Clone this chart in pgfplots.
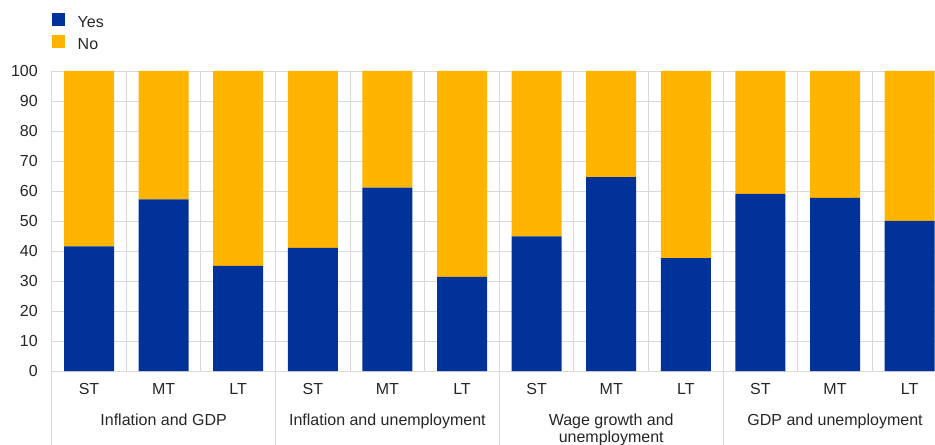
\documentclass[border=0pt]{standalone}
\usepackage{fontspec}
\setmainfont{Liberation Sans}
\usepackage{pgfplots}
\pgfplotsset{compat=1.18}
\definecolor{ecbblue}{HTML}{003299}
\definecolor{ecbyellow}{HTML}{FFB400}
\definecolor{gridgrey}{HTML}{D9D9D9}
\definecolor{textgrey}{HTML}{262626}
\begin{document}
\fontsize{16bp}{19bp}\selectfont
\begin{tikzpicture}
\useasboundingbox (0bp,0bp) rectangle (935bp,445bp);
\begin{axis}[
  at={(51.7bp,74bp)}, anchor=south west,
  width=883.3bp, height=300bp, scale only axis,
  ybar stacked, bar width=50bp,
  xmin=-0.5, xmax=11.34, ymin=0, ymax=100,
  clip=false,
  ytick={0,10,...,100},
  xtick={0,...,11},
  xticklabels={ST,MT,LT,ST,MT,LT,ST,MT,LT,ST,MT,LT},
  minor xtick={0.5,1.5,...,10.5},
  xminorgrids, ymajorgrids,
  grid style={gridgrey, line width=0.9bp},
  minor grid style={gridgrey, line width=0.9bp},
  major grid style={gridgrey, line width=0.9bp},
  axis line style={draw=none},
  major tick length=0pt, minor tick length=0pt,
  tick style={draw=none},
  /pgf/number format/assume math mode=true,
  ticklabel style={font=\fontsize{16bp}{19bp}\selectfont, text=textgrey},
  yticklabel style={xshift=-8.4bp},
  xticklabel style={yshift=-6.5bp},
  legend style={at={(axis description cs:0,1.193)}, anchor=north west,
    draw=none, fill=none, inner sep=0pt, outer sep=0pt,
    column sep=13bp, row sep=4bp,
    nodes={inner sep=0pt, text height=12bp, text depth=4bp,
      font=\fontsize{16bp}{19bp}\selectfont, text=textgrey}},
  legend cell align=left,
  legend image code/.code={\fill[#1] (0bp,-3bp) rectangle (13bp,10bp);},
]
\addplot[fill=ecbblue, draw=none] coordinates {
  (0,41.5) (1,57.2) (2,35.0) (3,41.0) (4,61.1) (5,31.4)
  (6,44.9) (7,64.6) (8,37.6) (9,59.0) (10,57.7) (11,50.0)};
\addplot[fill=ecbyellow, draw=none] coordinates {
  (0,58.5) (1,42.8) (2,65.0) (3,59.0) (4,38.9) (5,68.6)
  (6,55.1) (7,35.4) (8,62.4) (9,41.0) (10,42.3) (11,50.0)};
\legend{Yes,No}
\draw[gridgrey, line width=0.9bp] (axis cs:-0.5,100) -- (axis cs:-0.5,-24.67);
\draw[gridgrey, line width=0.9bp] (axis cs:2.5,0) -- (axis cs:2.5,-24.67);
\draw[gridgrey, line width=0.9bp] (axis cs:5.5,0) -- (axis cs:5.5,-24.67);
\draw[gridgrey, line width=0.9bp] (axis cs:8.5,0) -- (axis cs:8.5,-24.67);
\node[anchor=base, text=textgrey, inner sep=0pt] at (axis cs:1,-18.33) {Inflation and GDP};
\node[anchor=base, text=textgrey, inner sep=0pt] at (axis cs:4,-18.33) {Inflation and unemployment};
\node[anchor=base, text=textgrey, inner sep=0pt] at (axis cs:7,-18.0) {Wage growth and};
\node[anchor=base, text=textgrey, inner sep=0pt] at (axis cs:7,-23.8) {unemployment};
\node[anchor=base, text=textgrey, inner sep=0pt] at (axis cs:10,-18.33) {GDP and unemployment};
\end{axis}
\end{tikzpicture}
\end{document}
